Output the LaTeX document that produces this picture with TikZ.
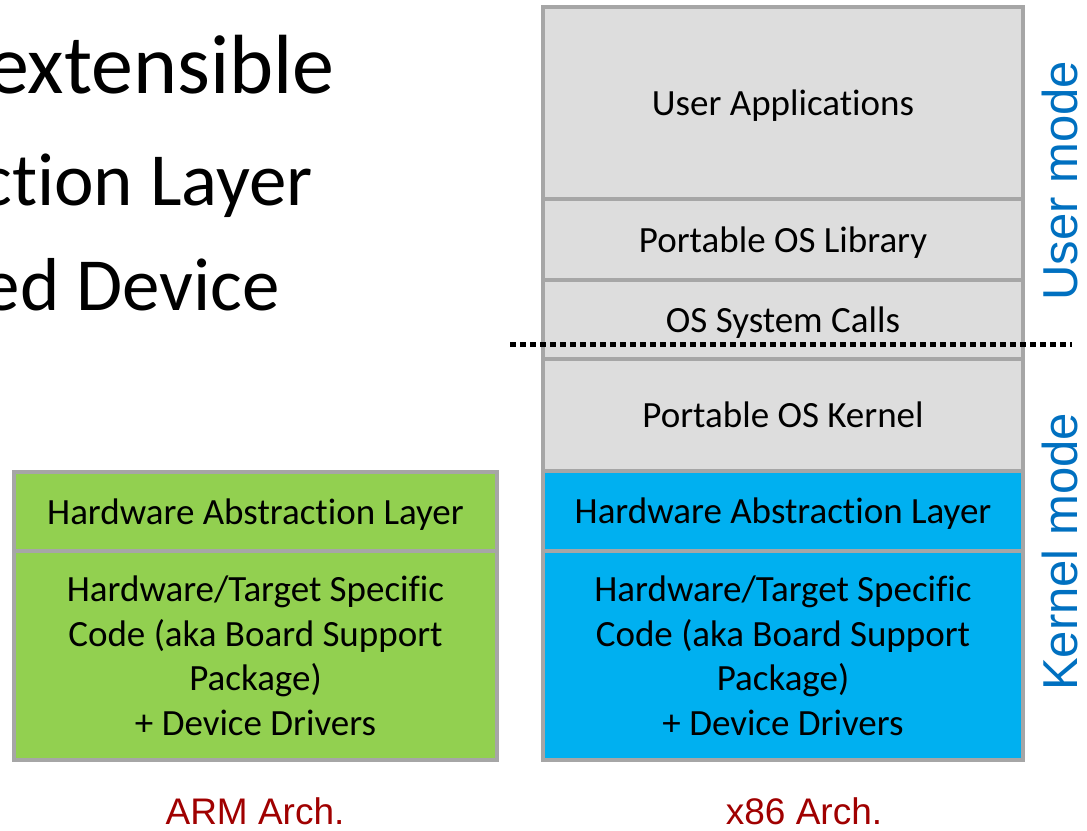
\documentclass[tikz,border=0pt]{standalone}
\usepackage{fontspec}
\setmainfont{Carlito}[Ligatures=NoCommon]
\newfontfamily\labelfont{Liberation Sans}

\definecolor{osgray}{HTML}{DDDDDD}
\definecolor{edgegray}{HTML}{A6A6A6}
\definecolor{armgreen}{HTML}{92D050}
\definecolor{xblue}{HTML}{00B0F0}
\definecolor{modeblue}{HTML}{0070C0}
\definecolor{archred}{HTML}{A00000}

\tikzset{
  layer/.style={draw=edgegray, line width=4pt, inner sep=0pt,
    minimum width=480pt, align=center, text depth=0pt,
    font=\fontsize{37}{44.5}\selectfont},
  bigtext/.style={anchor=base east, inner sep=0pt,
    font=\fontsize{75}{90}\selectfont},
  modelabel/.style={rotate=90, anchor=base, inner sep=0pt, text=modeblue,
    font=\labelfont\fontsize{49}{58}\selectfont},
  archlabel/.style={anchor=base, inner sep=0pt, text=archred,
    font=\labelfont\fontsize{37}{44}\selectfont},
  modeline/.style={line width=5pt, dash pattern=on 6pt off 4pt}
}

\begin{document}
\begin{tikzpicture}[x=1pt,y=-1pt]
    \useasboundingbox (0,0) rectangle (1087,830);
    % slide text cut at the left border
    \node[bigtext, font=\fontsize{84}{100}\selectfont] (ext) at (335,93) {extensible};
    \node[bigtext] (hal) at (313,205) {ction Layer};
    \node[bigtext] (dev) at (280,310) {ed Device};
    % ARM stack
    \node[layer, fill=armgreen, minimum width=483pt, minimum height=79pt]
      (armhal) at (255.5,511.5) {Hardware Abstraction Layer};
    \node[layer, fill=armgreen, minimum width=483pt, minimum height=209pt]
      (armbsp) at (255.5,655.5) {Hardware/Target Specific\\Code (aka Board Support\\Package)\\+ Device Drivers};
    % x86 stack
    \node[layer, fill=osgray, minimum height=192pt] (apps) at (783,103) {User Applications};
    \node[layer, fill=osgray, minimum height=81pt] (lib) at (783,239.5) {Portable OS Library};
    \node[layer, fill=osgray, minimum height=79pt] (calls) at (783,319.5) {OS System Calls};
    \node[layer, fill=osgray, minimum height=112pt] (kern) at (783,415) {Portable OS Kernel};
    \node[layer, fill=xblue, minimum height=80pt] (xhal) at (783,511) {Hardware Abstraction Layer};
    \node[layer, fill=xblue, minimum height=209pt]
      (xbsp) at (783,655.5) {Hardware/Target Specific\\Code (aka Board Support\\Package)\\+ Device Drivers};
    % user / kernel boundary
    \coordinate (cutL) at (510,344);
    \coordinate (cutR) at (1072,344);
    \draw[modeline] (cutL) -- (cutR);
    \node[modelabel] (umode) at (1077,181) {User mode};
    \node[modelabel] (kmode) at (1077,552) {Kernel mode};
    \node[archlabel] (arm) at (255,824) {ARM Arch.};
    \node[archlabel] (x86) at (804,824) {x86 Arch.};
\end{tikzpicture}
\end{document}
